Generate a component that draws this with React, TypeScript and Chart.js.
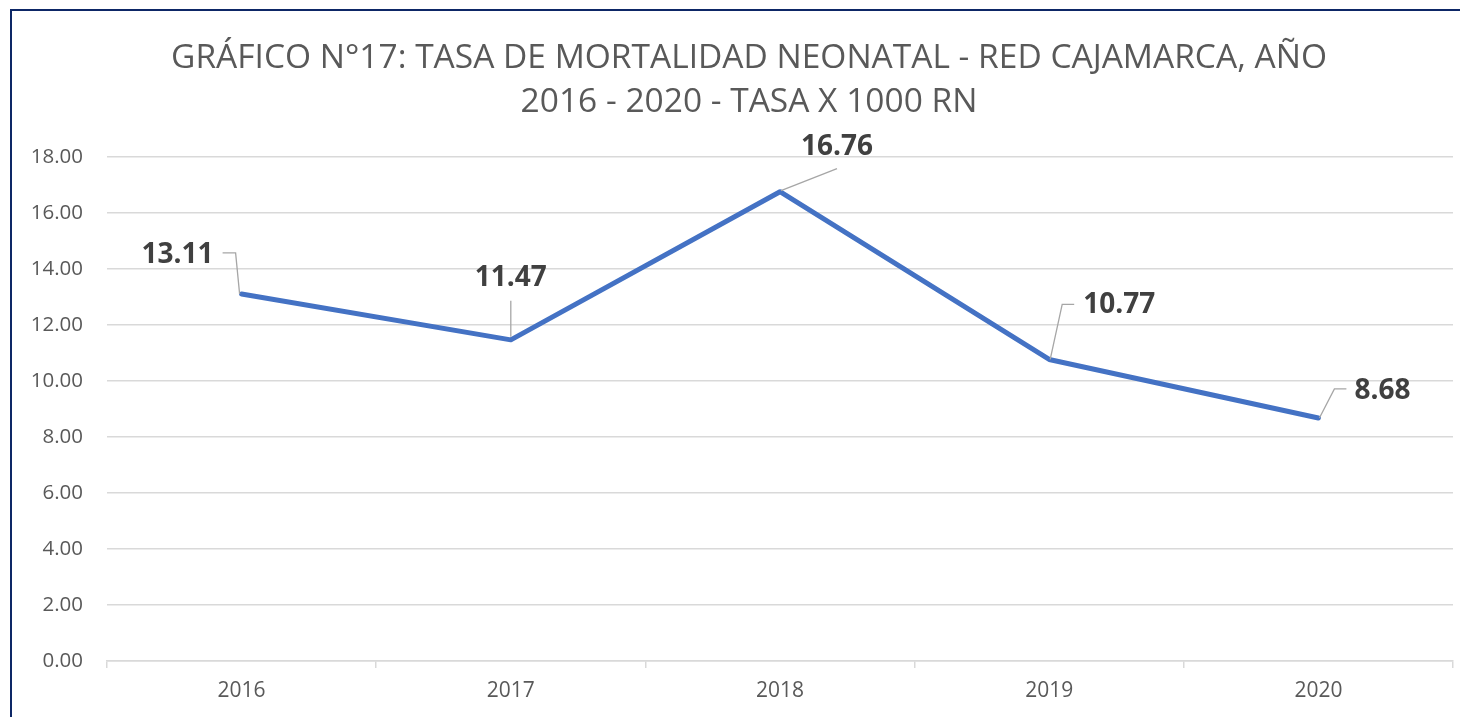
import React, { useEffect, useRef } from "react";
import { Chart, registerables } from "chart.js";

Chart.register(...registerables);

const years = ["2016", "2017", "2018", "2019", "2020"];
const tasa = [13.11, 11.47, 16.76, 10.77, 8.68];
const titleLines = [
  "GRÁFICO N°17: TASA DE MORTALIDAD NEONATAL - RED CAJAMARCA, AÑO",
  "2016 - 2020 - TASA X 1000 RN",
];
// label placement relative to each point: [label dx, label dy, leader path points (dx,dy)...]
const labelPlacement = [
  { dx: -64, dy: -39, path: [[-2, 0], [-6, -41], [-19, -41]] },
  { dx: 0, dy: -62, path: [[0, -3], [0, -39]] },
  { dx: 57, dy: -45, path: [[1, -1], [57, -23]] },
  { dx: 70, dy: -54, path: [[1, 0], [13, -55], [25, -55]] },
  { dx: 64, dy: -27, path: [[1, 0], [16, -29], [28, -29]] },
];

const titlePlugin = {
  id: "boxTitle",
  afterDraw(chart: any) {
    const ctx = chart.ctx;
    ctx.save();
    ctx.fillStyle = "#595959";
    ctx.font = "33.5px 'Open Sans'";
    ctx.textAlign = "center";
    ctx.textBaseline = "middle";
    const cx = (chart.width + 38) / 2;
    titleLines.forEach((t, i) => ctx.fillText(t, cx, 58 + i * 44));
    ctx.restore();
  },
};

const labelPlugin = {
  id: "leaderLabels",
  afterDatasetsDraw(chart: any) {
    const ctx = chart.ctx;
    const meta = chart.getDatasetMeta(0);
    meta.data.forEach((pt: any, i: number) => {
      const p = labelPlacement[i];
      const x = pt.x;
      const y = pt.y;
      ctx.save();
      ctx.strokeStyle = "#a6a6a6";
      ctx.lineWidth = 1.3;
      ctx.beginPath();
      p.path.forEach((q, j) => {
        if (j === 0) ctx.moveTo(x + q[0], y + q[1]);
        else ctx.lineTo(x + q[0], y + q[1]);
      });
      ctx.stroke();
      ctx.fillStyle = "#404040";
      ctx.font = "bold 28px 'Open Sans'";
      ctx.textAlign = "center";
      ctx.textBaseline = "middle";
      ctx.fillText(tasa[i].toFixed(2), x + p.dx, y + p.dy);
      ctx.restore();
    });
  },
};

export default function App() {
  const ref = useRef<HTMLCanvasElement>(null);
  useEffect(() => {
    if (!ref.current) return;
    const chart = new Chart(ref.current, {
      type: "line",
      data: {
        labels: years,
        datasets: [
          {
            data: tasa,
            borderColor: "#4472C4",
            borderWidth: 5,
            pointRadius: 0,
            borderJoinStyle: "round",
            borderCapStyle: "round",
            tension: 0,
          },
        ],
      },
      options: {
        animation: false,
        responsive: false,
        maintainAspectRatio: false,
        layout: { padding: { left: 0, right: 7, top: 157, bottom: 0 } },
        plugins: {
          legend: { display: false },
          tooltip: { enabled: false },
          title: { display: false },
        },
        scales: {
          x: {
            offset: true,
            grid: {
              offset: true,
              drawOnChartArea: false,
              drawTicks: true,
              tickLength: 7,
              color: "#d9d9d9",
              lineWidth: 1.5,
            },
            border: { display: true, color: "#d9d9d9", width: 1.5 },
            ticks: {
              color: "#595959",
              font: { family: "'Open Sans'", size: 21 },
              padding: 10,
            },
            afterFit: (s: any) => {
              s.height = 56;
            },
          },
          y: {
            min: 0,
            max: 18,
            ticks: {
              stepSize: 2,
              color: "#595959",
              font: { family: "'Open Sans'", size: 20.5 },
              padding: 24,
              callback: (v: any) => Number(v).toFixed(2),
            },
            grid: { drawTicks: false, color: "#d9d9d9", lineWidth: 1.5 },
            border: { display: false },
            afterFit: (s: any) => {
              s.width = 107;
            },
          },
        },
      },
      plugins: [titlePlugin, labelPlugin],
    });
    return () => chart.destroy();
  }, []);
  return (
    <div>
      <div
        style={{
          position: "fixed",
          left: 10,
          top: 9,
          width: 1520,
          height: 780,
          border: "2px solid #0d2766",
          boxSizing: "border-box",
        }}
      />
      <canvas
        ref={ref}
        width={1460}
        height={717}
        style={{ position: "fixed", left: 0, top: 0, width: 1460, height: 717 }}
      />
    </div>
  );
}
